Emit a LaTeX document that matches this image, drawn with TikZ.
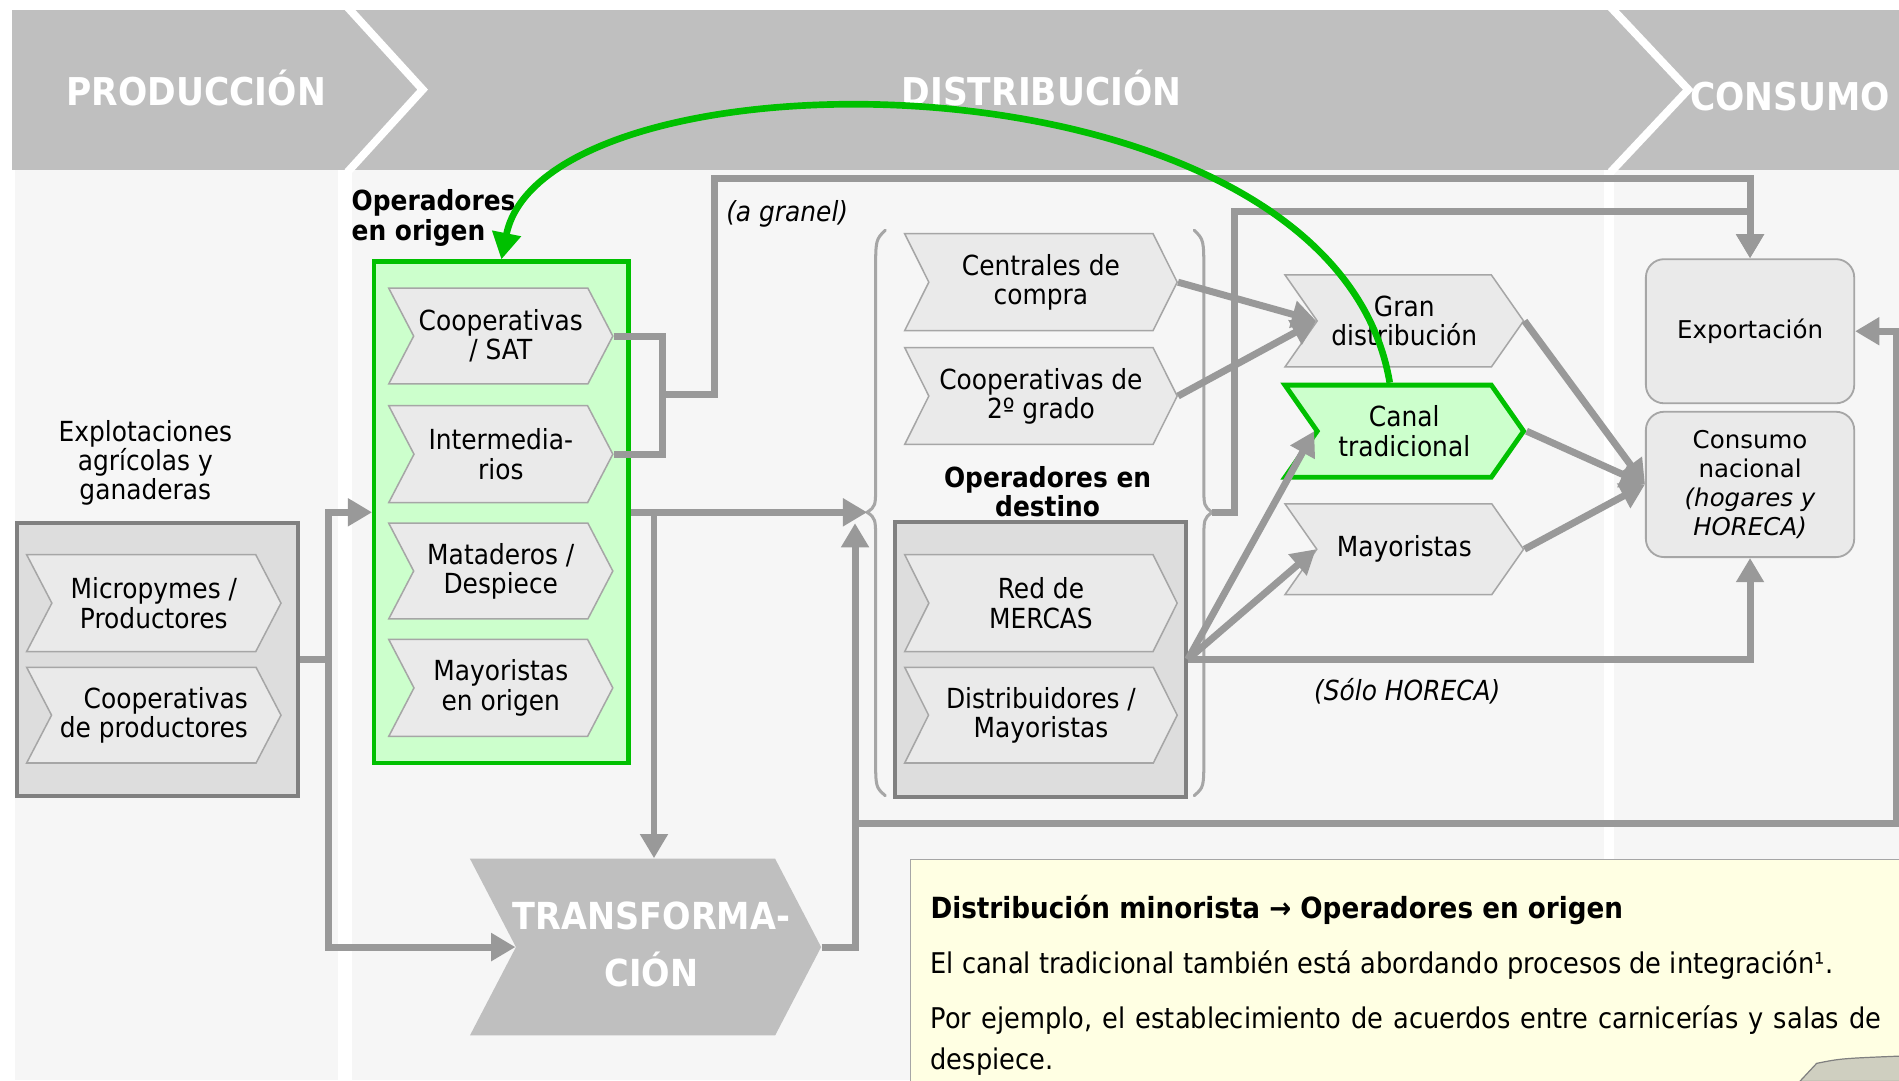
\documentclass[tikz,border=0pt]{standalone}
\usepackage{fontspec}
\setmainfont{DejaVu Sans}[FakeStretch=0.9]
\newfontfamily\verdfont{DejaVu Sans}
\usepackage{tikz}
\usetikzlibrary{arrows.meta, positioning, shapes.symbols}
\definecolor{hdrgray}{HTML}{BFBFBF}
\definecolor{panel}{HTML}{F6F6F6}
\definecolor{chevfill}{HTML}{EAEAEA}
\definecolor{chevline}{HTML}{A6A6A6}
\definecolor{boxfill}{HTML}{DDDDDD}
\definecolor{boxline}{HTML}{808080}
\definecolor{flowgray}{HTML}{999999}
\definecolor{okgreen}{HTML}{00C000}
\definecolor{okfill}{HTML}{CCFFCC}
\definecolor{notefill}{HTML}{FFFFE3}
\definecolor{curlfill}{HTML}{CFCFC0}
\newdimen\px \px=0.2mm
\newcommand{\txt}{\fontsize{13}{13.7}\selectfont}
\newcommand{\notetxt}{\fontsize{13.4}{14}\selectfont}

\begin{document}
\begin{tikzpicture}[x=0.2mm, y=-0.2mm,
  chev/.style={signal, signal to=east, signal from=west, signal pointer angle=125,
    draw=chevline, line width=0.25mm, fill=chevfill, inner sep=0pt, align=center, font=\txt},
  opbox/.style={draw=boxline, line width=0.7mm, fill=boxfill, inner sep=0pt},
  endbox/.style={rounded corners=3mm, draw=chevline, line width=0.3mm, fill=chevfill,
    inner sep=0pt, align=center, font=\verdfont\fontsize{11.5}{13.7}\selectfont},
  link/.style={draw=flowgray, line width=1.15mm},
  flow/.style={link, -{Triangle[length=4mm, width=4.4mm]}},
  lbl/.style={font=\bfseries\txt, align=center, inner sep=0pt},
  hdr/.style={text=white, font=\bfseries\fontsize{18}{26.7}\selectfont, align=center},
  brace/.style={draw=chevline, line width=0.5mm, line cap=round}]
  \useasboundingbox (0,0) rectangle (1568,892);
  % --- background and phase header ---------------------------------
  \fill[white] (0,0) rectangle (1568,892);
  \fill[panel] (12,140) rectangle (279,892);
  \fill[panel] (291,140) rectangle (1324,892);
  \fill[panel] (1333,140) rectangle (1568,892);
  \fill[hdrgray] (10,8) rectangle (1568,140);
  \draw[white, line width=1.3mm] (287,6) -- (349,74) -- (287,142);
  \draw[white, line width=1.3mm] (1330,6) -- (1394,74) -- (1330,142);
  \node[hdr] (hprod) at (162,73) {PRODUCCIÓN};
  \node[hdr] (hdist) at (860,73) {DISTRIBUCIÓN};
  \node[hdr] (hcons) at (1478,80) {CONSUMO};
  % --- production ---------------------------------------------------
  \node[font=\txt, align=center] (explab) at (120,382) {Explotaciones\\agrícolas y\\ganaderas};
  \node[opbox, minimum width=232\px, minimum height=225\px] (explot) at (130,544.5) {};
  \node[chev, minimum width=210\px, minimum height=80\px] (micro) at (127,498) {Micropymes /\\Productores};
  \node[chev, minimum width=210\px, minimum height=79\px, align=right] (coopprod) at (127,590.5) {Cooperativas\\de productores};
  % --- operators at origin -----------------------------------------
  \node[lbl, align=left, anchor=west] (origlab) at (290,180) {Operadores\\en origen};
  \node[draw=okgreen, line width=0.7mm, fill=okfill, minimum width=210\px, minimum height=414\px] (origen) at (414,423) {};
  \node[chev, minimum width=185\px, minimum height=79\px] (coopsat) at (413.5,277.5) {Cooperativas\\/ SAT};
  \node[chev, minimum width=185\px, minimum height=80\px] (interm) at (413.5,375) {Intermedia-\\rios};
  \node[chev, minimum width=185\px, minimum height=79\px] (matad) at (413.5,471.5) {Mataderos /\\Despiece};
  \node[chev, minimum width=185\px, minimum height=80\px] (mayori) at (413.5,568) {Mayoristas\\en origen};
  % --- transformation -----------------------------------------------
  \node[signal, signal to=east, signal from=west, signal pointer angle=125, fill=hdrgray,
    minimum width=290\px, minimum height=146\px, inner sep=0pt] (transf) at (533,782) {};
  \node[hdr, font=\bfseries\fontsize{17.5}{26.7}\selectfont] (transflab) at (538,780) {TRANSFORMA-\\CIÓN};
  % --- operators at destination -------------------------------------
  \node[chev, signal pointer angle=127, minimum width=225\px, minimum height=80\px] (centr) at (859.5,233) {Centrales de\\compra};
  \node[chev, signal pointer angle=127, minimum width=225\px, minimum height=80\px] (coop2) at (859.5,327) {Cooperativas de\\2º grado};
  \node[lbl] (destlab) at (865,406) {Operadores en\\destino};
  \node[opbox, minimum width=240\px, minimum height=227\px] (destino) at (859,544.5) {};
  \node[chev, signal pointer angle=127, minimum width=225\px, minimum height=80\px] (mercas) at (859.5,498) {Red de\\MERCAS};
  \node[chev, signal pointer angle=127, minimum width=225\px, minimum height=79\px] (distr) at (859.5,590.5) {Distribuidores /\\Mayoristas};
  \draw[brace] (731,190) .. controls (723,198) .. (723,225) -- (723,400) .. controls (723,418) .. (716,423)
    .. controls (723,428) .. (723,448) -- (723,625) .. controls (723,650) .. (731,657);
  \draw[brace] (986,190) .. controls (994,198) .. (994,225) -- (994,400) .. controls (994,418) .. (1001,423)
    .. controls (994,428) .. (994,448) -- (994,625) .. controls (994,650) .. (986,657);
  \coordinate (lbr) at (716,423);
  \coordinate (rbr) at (1001,423);
  % --- retail channels ----------------------------------------------
  \node[chev, signal pointer angle=110, minimum width=197\px, minimum height=76\px] (gran) at (1159.5,265) {Gran\\distribución};
  \node[chev, signal pointer angle=110, minimum width=197\px, minimum height=76\px, draw=okgreen, fill=okfill, line width=0.8mm] (canal) at (1159.5,356) {Canal\\tradicional};
  \node[chev, signal pointer angle=110, minimum width=197\px, minimum height=75\px] (mayor) at (1159.5,453.5) {Mayoristas};
  % --- consumption --------------------------------------------------
  \node[endbox, minimum width=172\px, minimum height=119\px] (expo) at (1445,273.5) {Exportación};
  \node[endbox, minimum width=172\px, minimum height=120\px] (consumo) at (1445,400) {Consumo\\nacional\\{\itshape (hogares y}\\{\itshape HORECA)}};
  % --- flows ----------------------------------------------------------
  \coordinate (pj) at (271,544.5);
  \draw[link] (explot.east) -- (pj);
  \draw[flow] (pj) |- (origen.west);
  \draw[flow] (pj) |- (transf.west);
  \coordinate (oj) at (547,326);
  \coordinate (grn) at (590,147);
  \draw[link] (coopsat.east) -| (oj) |- (interm.east);
  \draw[flow] (oj) -| (grn) -| (expo.north);
  \node[font=\itshape\txt] (granel) at (650,177) {(a granel)};
  \draw[flow] (origen.east) -- (lbr);
  \coordinate (td) at (540,423);
  \draw[flow] (td) -- (td |- transf.north);
  \coordinate (tup) at (706,432);
  \draw[flow] (transf.east) -| (tup);
  \coordinate (lowl) at (706,680);
  \coordinate (lowr) at (1566,680);
  \draw[flow] (lowl) -- (lowr) |- (expo.east);
  \coordinate (rj) at (1019,175);
  \draw[flow] (rbr) -| (rj) -| (expo.north);
  \draw[flow] (centr.east) -- (gran.west);
  \draw[flow] (coop2.east) -- (gran.west);
  \draw[flow] (destino.east) -- (canal.west);
  \draw[flow] (destino.east) -- (mayor.west);
  \draw[flow] (destino.east) -| (consumo.south);
  \node[font=\itshape\txt] (horeca) at (1162,571) {(Sólo HORECA)};
  \draw[flow] (gran.east) -- (consumo.west);
  \draw[flow] (canal.east) -- (consumo.west);
  \draw[flow] (mayor.east) -- (consumo.west);
  % --- note -----------------------------------------------------------
  \node[draw=chevline, line width=0.3mm, fill=notefill, anchor=north west, minimum width=900\px, minimum height=250\px] (note) at (751,709) {};
  \node[anchor=base west, inner sep=0pt, font=\bfseries\fontsize{13.7}{14}\selectfont] (ntitle) at (768,758) {Distribución minorista → Operadores en origen};
  \node[anchor=base west, inner sep=0pt, font=\notetxt] (nline1) at (768,804) {El canal tradicional también está abordando procesos de integración¹.};
  \node[anchor=base west, inner sep=0pt, font=\notetxt] (nline2) at (768,849) {\makebox[157mm][s]{Por ejemplo, el establecimiento de acuerdos entre carnicerías y salas de}};
  \node[anchor=base west, inner sep=0pt, font=\notetxt] (nline3) at (768,883) {despiece.};
  \filldraw[fill=curlfill, draw=boxline, line width=0.2mm] (1486,893) -- (1500,878) .. controls (1520,874) .. (1569,872) -- (1569,893) -- cycle;
  % --- green feedback -------------------------------------------------
  \draw[okgreen, line width=1.1mm, -{Triangle[length=4.4mm, width=4.6mm]}] ([xshift=-12\px]canal.north) .. controls (1100,34) and (450,34) .. (origen.north);
\end{tikzpicture}
\end{document}
